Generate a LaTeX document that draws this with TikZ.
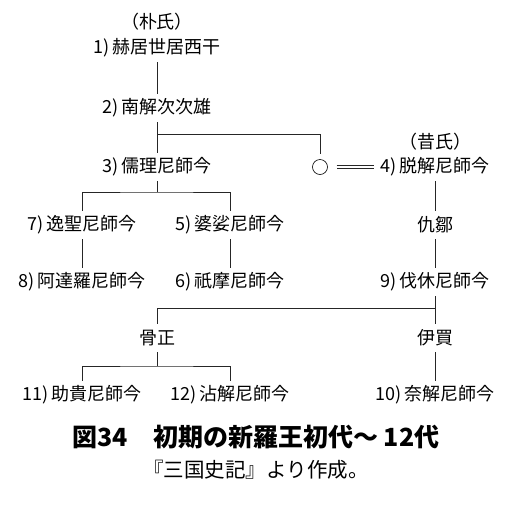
\documentclass[tikz,border=0pt]{standalone}
\usepackage{fontspec}
\newfontfamily\jp{Noto Sans CJK JP}
\tikzset{kbox/.style={
    rectangle,
    inner sep=0pt,
    minimum height=28pt,
    font=\jp\fontsize{18}{20}\selectfont
  },
  clanbox/.style={kbox,minimum height=20pt},
  titlebox/.style={kbox,font=\jp\bfseries\fontsize{25}{27}\selectfont},
  srcbox/.style={kbox,font=\jp\fontsize{20.5}{23}\selectfont},
  wedbox/.style={circle,draw,line width=0.6pt,minimum size=15pt,
    inner sep=0pt,outer sep=6pt},
  line/.style={line width=0.8pt,black!85},
}

\begin{document}
\begin{tikzpicture}[x=1pt,y=-1pt]
  \useasboundingbox (0,0) rectangle (515,515);
  % Park line
  \node [clanbox] (paku) at (157,22) {（朴氏）};
  \node [kbox] (k1) at (157,48) {1)\,赫居世居西干};
  \node [kbox] (k2) at (157,108) {2)\,南解次次雄};
  \node [kbox] (k3) at (157,167) {3)\,儒理尼師今};
  \node [kbox] (k7) at (82,225) {7)\,逸聖尼師今};
  \node [kbox] (k5) at (230,225) {5)\,婆娑尼師今};
  \node [kbox] (k8) at (82,282) {8)\,阿達羅尼師今};
  \node [kbox] (k6) at (230,282) {6)\,祇摩尼師今};
  % Seok line
  \node [wedbox] (wed) at (320,167) {};
  \node [clanbox] (seki) at (435,142) {（昔氏）};
  \node [kbox] (k4) at (435,167) {4)\,脱解尼師今};
  \node [kbox] (kyu) at (435,225) {仇鄒};
  \node [kbox] (k9) at (435,282) {9)\,伐休尼師今};
  \node [kbox] (kotsu) at (157,338) {骨正};
  \node [kbox] (iba) at (435,338) {伊買};
  \node [kbox] (k11) at (82,395) {11)\,助貴尼師今};
  \node [kbox] (k12) at (230,395) {12)\,沾解尼師今};
  \node [kbox] (k10) at (435,395) {10)\,奈解尼師今};
  % caption
  \node [titlebox] (title) at (256,437) {図34　初期の新羅王初代～ 12代};
  \node [srcbox] (src) at (256,470) {『三国史記』より作成。};

  \coordinate (bar1) at (157,134);
  \coordinate (bar2) at (157,192);
  \coordinate (bar3) at (435,308);
  \coordinate (bar4) at (157,366);
  \draw[line] (k1) -- (k2);
  \draw[line] (k2) -- (k3);
  \draw[line] (bar1) -| (wed);
  \draw[line,double,double distance=2.4pt,line width=0.7pt,
    shorten <=3pt,shorten >=6pt] (wed) -- (k4);
  \draw[line] (k3) -- (bar2);
  \draw[line] (k7) |- (bar2) -| (k5);
  \draw[line] (k7) -- (k8);
  \draw[line] (k5) -- (k6);
  \draw[line] (k4) -- (kyu);
  \draw[line] (kyu) -- (k9);
  \draw[line] (k9) -- (iba);
  \draw[line] (bar3) -| (kotsu);
  \draw[line] (iba) -- (k10);
  \draw[line] (kotsu) -- (bar4);
  \draw[line] (k11) |- (bar4) -| (k12);
\end{tikzpicture}
\end{document}
